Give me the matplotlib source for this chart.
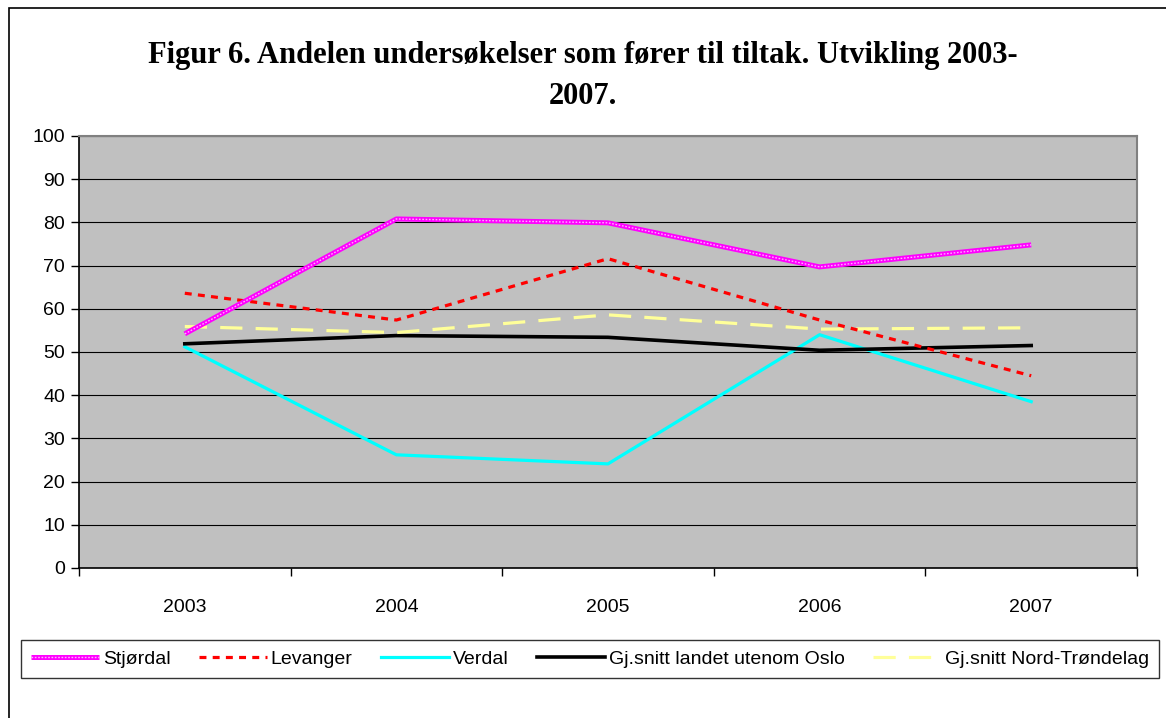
import matplotlib
matplotlib.use('Agg')
import matplotlib.pyplot as plt
from matplotlib.patches import Rectangle
from matplotlib.legend_handler import HandlerTuple

# data
years = ['2003', '2004', '2005', '2006', '2007']
stjordal = [54.2, 80.8, 79.9, 69.7, 74.8]
levanger = [63.6, 57.4, 71.6, 57.4, 44.5]
verdal = [51.2, 26.2, 24.1, 54.0, 38.5]
landet = [51.9, 53.8, 53.4, 50.4, 51.5]
nord_trondelag = [55.9, 54.5, 58.6, 55.3, 55.6]

plt.rcParams['font.family'] = ['Liberation Sans', 'DejaVu Sans']
plt.rcParams['lines.scale_dashes'] = False

fig = plt.figure(figsize=(11.66, 7.18), dpi=100)
ax = fig.add_axes([79/1166, 150/718, (1137-79)/1166, (568-136)/718])
ax.set_facecolor('#C0C0C0')

x = list(range(len(years)))

# Stjørdal: tykk magenta med rutemønster
l1a, = ax.plot(x, stjordal, color='#FF00FF', lw=3.6, solid_capstyle='butt', zorder=5)
l1b, = ax.plot(x, stjordal, color='#FFB0FF', lw=1.0, ls=(0, (1.2, 1.2)), zorder=6)
l2, = ax.plot(x, levanger, color='#FF0000', lw=2.3, ls=(0, (5, 4.5)), zorder=4)
l3, = ax.plot(x, verdal, color='#00FFFF', lw=2.3, zorder=3)
l4, = ax.plot(x, landet, color='#000000', lw=2.6, zorder=3)
l5, = ax.plot(x, nord_trondelag, color='#FFFF99', lw=2.3, ls=(0, (16, 9.5)), zorder=3)

ax.set_ylim(0, 100)
ax.set_xlim(-0.5, len(years) - 0.5)
ax.set_yticks(range(0, 101, 10))
ax.yaxis.grid(True, color='black', lw=0.8)
ax.set_axisbelow(True)
ax.tick_params(axis='y', direction='out', length=6, width=1, labelsize=14, pad=4)

ax.set_xticks([i - 0.5 for i in range(len(years) + 1)])
ax.set_xticklabels([])
ax.tick_params(axis='x', which='major', direction='out', length=6, width=1)
ax.set_xticks(x, minor=True)
ax.set_xticklabels(years, minor=True)
ax.tick_params(axis='x', which='minor', length=0, labelsize=14, pad=22)

for s in ['top', 'right']:
    ax.spines[s].set_color('#808080')
    ax.spines[s].set_linewidth(1.5)
for s in ['left', 'bottom']:
    ax.spines[s].set_color('black')
    ax.spines[s].set_linewidth(1.2)

fig.text(0.5, 1 - 55/718, 'Figur 6. Andelen undersøkelser som fører til tiltak. Utvikling 2003-',
         ha='center', va='center', fontsize=22, fontweight='bold', family='Liberation Serif')
fig.text(0.5, 1 - 97/718, '2007.',
         ha='center', va='center', fontsize=22, fontweight='bold', family='Liberation Serif')

# ramme rundt figuren (bare topp og venstre synlig)
fig.patches.append(Rectangle((9/1166, -0.05), 1.2, 1 - 8/718 + 0.05, transform=fig.transFigure,
                             fill=False, edgecolor='black', lw=1.2))

leg = fig.legend([(l1a, l1b), l2, l3, l4, l5],
                 ['Stjørdal', 'Levanger', 'Verdal', 'Gj.snitt landet utenom Oslo', 'Gj.snitt Nord-Trøndelag'],
                 handler_map={tuple: HandlerTuple(ndivide=1, pad=0)},
                 loc='center', bbox_to_anchor=(590/1166, 1 - 659/718), ncol=5,
                 fontsize=14, frameon=True, fancybox=False, edgecolor='black',
                 handlelength=3.5, handletextpad=0.2, columnspacing=1.45, borderpad=0.5,
                 borderaxespad=0)
leg.get_frame().set_linewidth(1.0)

plt.savefig('out.png', dpi=100)
plt.close()
